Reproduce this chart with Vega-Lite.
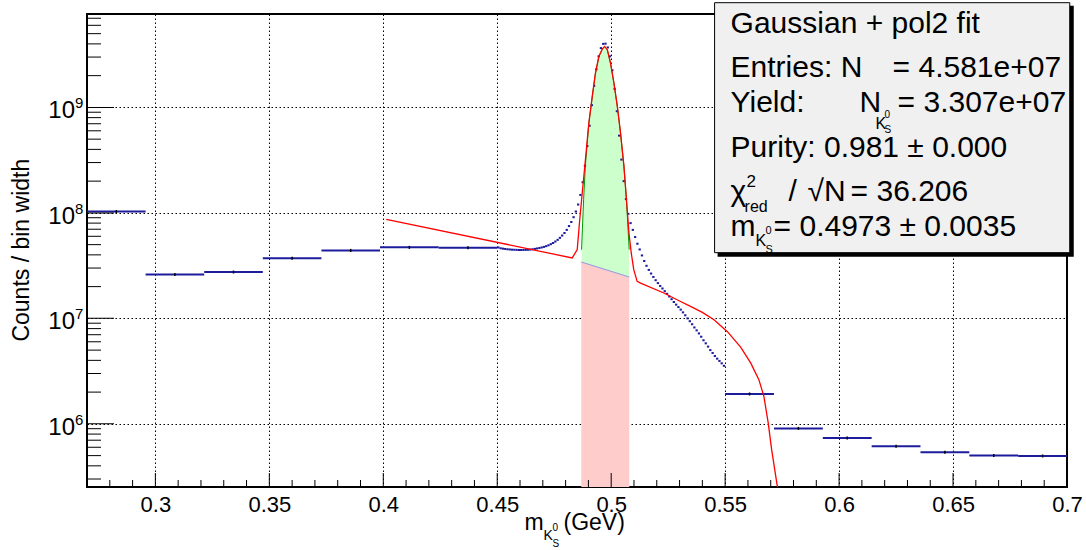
{
  "$schema": "https://vega.github.io/schema/vega-lite/v6.json",
  "width": 980,
  "height": 473,
  "autosize": {"type": "none"},
  "padding": {"left": 87, "top": 14, "right": 19, "bottom": 63},
  "background": "white",
  "config": {
    "view": {"stroke": "black", "strokeWidth": 2},
    "font": "Liberation Sans",
    "text": {"font": "Liberation Sans", "color": "black", "baseline": "alphabetic"}
  },
  "resolve": {"axis": {"x": "independent", "y": "independent"}},
  "data": {"values": [{}]},
  "datasets": {
    "hist": [
      {"lo": 0.27, "hi": 0.29571, "n": 1.03e8},
      {"lo": 0.29571, "hi": 0.32143, "n": 2.61e7},
      {"lo": 0.32143, "hi": 0.34714, "n": 2.75e7},
      {"lo": 0.34714, "hi": 0.37286, "n": 3.71e7},
      {"lo": 0.37286, "hi": 0.39857, "n": 4.41e7},
      {"lo": 0.39857, "hi": 0.42429, "n": 4.71e7},
      {"lo": 0.42429, "hi": 0.45, "n": 4.68e7},
      {"lo": 0.450, "hi": 0.451, "n": 4.70e7},
      {"lo": 0.451, "hi": 0.452, "n": 4.62e7},
      {"lo": 0.452, "hi": 0.453, "n": 4.58e7},
      {"lo": 0.453, "hi": 0.454, "n": 4.55e7},
      {"lo": 0.454, "hi": 0.455, "n": 4.52e7},
      {"lo": 0.455, "hi": 0.456, "n": 4.50e7},
      {"lo": 0.456, "hi": 0.457, "n": 4.48e7},
      {"lo": 0.457, "hi": 0.458, "n": 4.47e7},
      {"lo": 0.458, "hi": 0.459, "n": 4.46e7},
      {"lo": 0.459, "hi": 0.460, "n": 4.45e7},
      {"lo": 0.460, "hi": 0.461, "n": 4.45e7},
      {"lo": 0.461, "hi": 0.462, "n": 4.45e7},
      {"lo": 0.462, "hi": 0.463, "n": 4.46e7},
      {"lo": 0.463, "hi": 0.464, "n": 4.47e7},
      {"lo": 0.464, "hi": 0.465, "n": 4.49e7},
      {"lo": 0.465, "hi": 0.466, "n": 4.52e7},
      {"lo": 0.466, "hi": 0.467, "n": 4.56e7},
      {"lo": 0.467, "hi": 0.468, "n": 4.60e7},
      {"lo": 0.468, "hi": 0.469, "n": 4.65e7},
      {"lo": 0.469, "hi": 0.470, "n": 4.70e7},
      {"lo": 0.470, "hi": 0.471, "n": 4.76e7},
      {"lo": 0.471, "hi": 0.472, "n": 4.84e7},
      {"lo": 0.472, "hi": 0.473, "n": 4.93e7},
      {"lo": 0.473, "hi": 0.474, "n": 5.05e7},
      {"lo": 0.474, "hi": 0.475, "n": 5.18e7},
      {"lo": 0.475, "hi": 0.476, "n": 5.35e7},
      {"lo": 0.476, "hi": 0.477, "n": 5.55e7},
      {"lo": 0.477, "hi": 0.478, "n": 5.80e7},
      {"lo": 0.478, "hi": 0.479, "n": 6.10e7},
      {"lo": 0.479, "hi": 0.480, "n": 6.45e7},
      {"lo": 0.480, "hi": 0.481, "n": 6.90e7},
      {"lo": 0.481, "hi": 0.482, "n": 7.50e7},
      {"lo": 0.482, "hi": 0.483, "n": 8.20e7},
      {"lo": 0.483, "hi": 0.484, "n": 9.10e7},
      {"lo": 0.484, "hi": 0.485, "n": 1.03e8},
      {"lo": 0.485, "hi": 0.486, "n": 1.20e8},
      {"lo": 0.486, "hi": 0.487, "n": 1.48e8},
      {"lo": 0.487, "hi": 0.488, "n": 1.95e8},
      {"lo": 0.488, "hi": 0.489, "n": 2.80e8},
      {"lo": 0.489, "hi": 0.490, "n": 4.30e8},
      {"lo": 0.490, "hi": 0.491, "n": 6.70e8},
      {"lo": 0.491, "hi": 0.492, "n": 1.05e9},
      {"lo": 0.492, "hi": 0.493, "n": 1.60e9},
      {"lo": 0.493, "hi": 0.494, "n": 2.30e9},
      {"lo": 0.494, "hi": 0.495, "n": 3.05e9},
      {"lo": 0.495, "hi": 0.496, "n": 3.65e9},
      {"lo": 0.496, "hi": 0.497, "n": 4.00e9},
      {"lo": 0.497, "hi": 0.498, "n": 4.02e9},
      {"lo": 0.498, "hi": 0.499, "n": 3.70e9},
      {"lo": 0.499, "hi": 0.500, "n": 3.05e9},
      {"lo": 0.500, "hi": 0.501, "n": 2.25e9},
      {"lo": 0.501, "hi": 0.502, "n": 1.50e9},
      {"lo": 0.502, "hi": 0.503, "n": 9.20e8},
      {"lo": 0.503, "hi": 0.504, "n": 5.40e8},
      {"lo": 0.504, "hi": 0.505, "n": 3.20e8},
      {"lo": 0.505, "hi": 0.506, "n": 2.00e8},
      {"lo": 0.506, "hi": 0.507, "n": 1.35e8},
      {"lo": 0.507, "hi": 0.508, "n": 9.80e7},
      {"lo": 0.508, "hi": 0.509, "n": 8.00e7},
      {"lo": 0.509, "hi": 0.510, "n": 6.90e7},
      {"lo": 0.510, "hi": 0.511, "n": 5.90e7},
      {"lo": 0.511, "hi": 0.512, "n": 5.10e7},
      {"lo": 0.512, "hi": 0.513, "n": 4.50e7},
      {"lo": 0.513, "hi": 0.514, "n": 3.95e7},
      {"lo": 0.514, "hi": 0.515, "n": 3.50e7},
      {"lo": 0.515, "hi": 0.516, "n": 3.15e7},
      {"lo": 0.516, "hi": 0.517, "n": 2.88e7},
      {"lo": 0.517, "hi": 0.518, "n": 2.66e7},
      {"lo": 0.518, "hi": 0.519, "n": 2.47e7},
      {"lo": 0.519, "hi": 0.520, "n": 2.30e7},
      {"lo": 0.520, "hi": 0.521, "n": 2.16e7},
      {"lo": 0.521, "hi": 0.522, "n": 2.03e7},
      {"lo": 0.522, "hi": 0.523, "n": 1.92e7},
      {"lo": 0.523, "hi": 0.524, "n": 1.81e7},
      {"lo": 0.524, "hi": 0.525, "n": 1.71e7},
      {"lo": 0.525, "hi": 0.526, "n": 1.61e7},
      {"lo": 0.526, "hi": 0.527, "n": 1.52e7},
      {"lo": 0.527, "hi": 0.528, "n": 1.43e7},
      {"lo": 0.528, "hi": 0.529, "n": 1.35e7},
      {"lo": 0.529, "hi": 0.530, "n": 1.28e7},
      {"lo": 0.530, "hi": 0.531, "n": 1.21e7},
      {"lo": 0.531, "hi": 0.532, "n": 1.14e7},
      {"lo": 0.532, "hi": 0.533, "n": 1.07e7},
      {"lo": 0.533, "hi": 0.534, "n": 1.00e7},
      {"lo": 0.534, "hi": 0.535, "n": 9.4e6},
      {"lo": 0.535, "hi": 0.536, "n": 8.8e6},
      {"lo": 0.536, "hi": 0.537, "n": 8.2e6},
      {"lo": 0.537, "hi": 0.538, "n": 7.7e6},
      {"lo": 0.538, "hi": 0.539, "n": 7.2e6},
      {"lo": 0.539, "hi": 0.540, "n": 6.7e6},
      {"lo": 0.540, "hi": 0.541, "n": 6.2e6},
      {"lo": 0.541, "hi": 0.542, "n": 5.8e6},
      {"lo": 0.542, "hi": 0.543, "n": 5.4e6},
      {"lo": 0.543, "hi": 0.544, "n": 5.0e6},
      {"lo": 0.544, "hi": 0.545, "n": 4.7e6},
      {"lo": 0.545, "hi": 0.546, "n": 4.4e6},
      {"lo": 0.546, "hi": 0.547, "n": 4.15e6},
      {"lo": 0.547, "hi": 0.548, "n": 3.95e6},
      {"lo": 0.548, "hi": 0.549, "n": 3.75e6},
      {"lo": 0.549, "hi": 0.550, "n": 3.55e6},
      {"lo": 0.55, "hi": 0.57143, "n": 1.92e6},
      {"lo": 0.57143, "hi": 0.59286, "n": 9.06e5},
      {"lo": 0.59286, "hi": 0.61429, "n": 7.35e5},
      {"lo": 0.61429, "hi": 0.63571, "n": 6.12e5},
      {"lo": 0.63571, "hi": 0.65714, "n": 5.37e5},
      {"lo": 0.65714, "hi": 0.67857, "n": 5.02e5},
      {"lo": 0.67857, "hi": 0.7, "n": 4.96e5}
    ],
    "err": [
      {"c": 0.28286, "n": 1.03e8},
      {"c": 0.30857, "n": 2.61e7},
      {"c": 0.33429, "n": 2.75e7},
      {"c": 0.36, "n": 3.71e7},
      {"c": 0.38571, "n": 4.41e7},
      {"c": 0.41143, "n": 4.71e7},
      {"c": 0.43714, "n": 4.68e7},
      {"c": 0.56071, "n": 1.92e6},
      {"c": 0.58214, "n": 9.06e5},
      {"c": 0.60357, "n": 7.35e5},
      {"c": 0.625, "n": 6.12e5},
      {"c": 0.64643, "n": 5.37e5},
      {"c": 0.66786, "n": 5.02e5},
      {"c": 0.68929, "n": 4.96e5}
    ],
    "fit": [
      {"m": 0.4013, "f": 8.68e7},
      {"m": 0.4829, "f": 3.74e7},
      {"m": 0.4851, "f": 4.48e7},
      {"m": 0.4862, "f": 8.62e7},
      {"m": 0.4873, "f": 1.544e8},
      {"m": 0.4887, "f": 3.194e8},
      {"m": 0.4902, "f": 7.11e8},
      {"m": 0.4917, "f": 1.272e9},
      {"m": 0.4931, "f": 2.118e9},
      {"m": 0.4946, "f": 3.044e9},
      {"m": 0.4961, "f": 3.577e9},
      {"m": 0.4971, "f": 3.786e9},
      {"m": 0.4983, "f": 3.523e9},
      {"m": 0.4997, "f": 2.636e9},
      {"m": 0.5012, "f": 1.703e9},
      {"m": 0.5027, "f": 1.022e9},
      {"m": 0.5041, "f": 5.72e8},
      {"m": 0.5056, "f": 2.76e8},
      {"m": 0.5067, "f": 1.334e8},
      {"m": 0.5078, "f": 6.45e7},
      {"m": 0.5088, "f": 4.17e7},
      {"m": 0.5099, "f": 2.894e7},
      {"m": 0.5114, "f": 2.242e7},
      {"m": 0.5129, "f": 2.156e7},
      {"m": 0.5231, "f": 1.741e7},
      {"m": 0.5300, "f": 1.46e7},
      {"m": 0.5348, "f": 1.299e7},
      {"m": 0.5400, "f": 1.14e7},
      {"m": 0.5451, "f": 9.72e6},
      {"m": 0.5510, "f": 7.48e6},
      {"m": 0.5568, "f": 5.33e6},
      {"m": 0.5612, "f": 3.78e6},
      {"m": 0.5648, "f": 2.624e6},
      {"m": 0.5670, "f": 1.823e6},
      {"m": 0.5689, "f": 1.02e6},
      {"m": 0.5704, "f": 5.69e5},
      {"m": 0.5729, "f": 2.556e5},
      {"m": 0.5743, "f": 1.537e5}
    ],
    "sig": [
      {"m": 0.4870, "top": 4.48e7, "b": 3.424e7},
      {"m": 0.4879, "top": 1.334e8, "b": 3.38e7},
      {"m": 0.4887, "top": 2.86e8, "b": 3.33e7},
      {"m": 0.4902, "top": 7.11e8, "b": 3.256e7},
      {"m": 0.4917, "top": 1.272e9, "b": 3.18e7},
      {"m": 0.4931, "top": 2.118e9, "b": 3.111e7},
      {"m": 0.4946, "top": 3.044e9, "b": 3.044e7},
      {"m": 0.4961, "top": 3.577e9, "b": 2.972e7},
      {"m": 0.4971, "top": 3.786e9, "b": 2.927e7},
      {"m": 0.4983, "top": 3.523e9, "b": 2.87e7},
      {"m": 0.4997, "top": 2.636e9, "b": 2.808e7},
      {"m": 0.5012, "top": 1.703e9, "b": 2.741e7},
      {"m": 0.5027, "top": 1.022e9, "b": 2.682e7},
      {"m": 0.5041, "top": 5.72e8, "b": 2.618e7},
      {"m": 0.5056, "top": 2.76e8, "b": 2.562e7},
      {"m": 0.5067, "top": 1.334e8, "b": 2.512e7},
      {"m": 0.5079, "top": 4.48e7, "b": 2.468e7}
    ],
    "bkg": [
      {"m": 0.48686, "b": 3.424e7},
      {"m": 0.50793, "b": 2.468e7}
    ],
    "xmaj": [{"v": 0.3}, {"v": 0.35}, {"v": 0.4}, {"v": 0.45}, {"v": 0.5}, {"v": 0.55}, {"v": 0.6}, {"v": 0.65}],
    "xmin": [{"v": 0.28}, {"v": 0.29}, {"v": 0.31}, {"v": 0.32}, {"v": 0.33}, {"v": 0.34}, {"v": 0.36}, {"v": 0.37}, {"v": 0.38}, {"v": 0.39}, {"v": 0.41}, {"v": 0.42}, {"v": 0.43}, {"v": 0.44}, {"v": 0.46}, {"v": 0.47}, {"v": 0.48}, {"v": 0.49}, {"v": 0.51}, {"v": 0.52}, {"v": 0.53}, {"v": 0.54}, {"v": 0.56}, {"v": 0.57}, {"v": 0.58}, {"v": 0.59}, {"v": 0.61}, {"v": 0.62}, {"v": 0.63}, {"v": 0.64}, {"v": 0.66}, {"v": 0.67}, {"v": 0.68}, {"v": 0.69}],
    "ymaj": [{"v": 1e6}, {"v": 1e7}, {"v": 1e8}, {"v": 1e9}],
    "ymin": [{"v": 3e5}, {"v": 4e5}, {"v": 5e5}, {"v": 6e5}, {"v": 7e5}, {"v": 8e5}, {"v": 9e5}, {"v": 2e6}, {"v": 3e6}, {"v": 4e6}, {"v": 5e6}, {"v": 6e6}, {"v": 7e6}, {"v": 8e6}, {"v": 9e6}, {"v": 2e7}, {"v": 3e7}, {"v": 4e7}, {"v": 5e7}, {"v": 6e7}, {"v": 7e7}, {"v": 8e7}, {"v": 9e7}, {"v": 2e8}, {"v": 3e8}, {"v": 4e8}, {"v": 5e8}, {"v": 6e8}, {"v": 7e8}, {"v": 8e8}, {"v": 9e8}, {"v": 2e9}, {"v": 3e9}, {"v": 4e9}, {"v": 5e9}, {"v": 6e9}, {"v": 7e9}],
    "ylab": [
      {"p": 1e6, "e": "6"},
      {"p": 1e7, "e": "7"},
      {"p": 1e8, "e": "8"},
      {"p": 1e9, "e": "9"}
    ]
  },
  "layer": [
    {
      "data": {"name": "bkg"},
      "mark": {"type": "area", "color": "#ffcccc", "opacity": 1},
      "encoding": {
        "x": {"field": "m", "type": "quantitative",
              "scale": {"type": "linear", "domain": [0.27, 0.7], "nice": false, "zero": false},
              "axis": null},
        "y": {"field": "b", "type": "quantitative",
              "scale": {"type": "log", "domain": [252000, 7.68e9], "nice": false},
              "axis": null},
        "y2": {"datum": 252000}
      }
    },
    {
      "data": {"name": "sig"},
      "mark": {"type": "area", "color": "#ccffcc", "opacity": 1},
      "encoding": {
        "x": {"field": "m", "type": "quantitative", "axis": null},
        "y": {"field": "top", "type": "quantitative", "axis": null},
        "y2": {"field": "b"}
      }
    },
    {
      "data": {"name": "sig"},
      "mark": {"type": "line", "color": "#009900", "strokeWidth": 1},
      "encoding": {
        "x": {"field": "m", "type": "quantitative", "axis": null},
        "y": {"field": "top", "type": "quantitative", "axis": null}
      }
    },
    {
      "data": {"name": "bkg"},
      "mark": {"type": "line", "color": "#9a9ae0", "strokeWidth": 1.2},
      "encoding": {
        "x": {"field": "m", "type": "quantitative", "axis": null},
        "y": {"field": "b", "type": "quantitative", "axis": null}
      }
    },
    {
      "data": {"name": "hist"},
      "mark": {"type": "rule", "color": "#1c1c9c", "strokeWidth": 2},
      "encoding": {
        "x": {"field": "lo", "type": "quantitative",
              "axis": {"orient": "bottom", "values": [0.3, 0.35, 0.4, 0.45, 0.5, 0.55, 0.6, 0.65, 0.7], "format": ".2~f", "ticks": false, "labels": true, "labelFont": "Liberation Sans", "labelFontSize": 22, "labelColor": "black", "labelPadding": 7, "labelFlush": false, "labelOverlap": false, "grid": true, "gridColor": "black", "gridDash": [1.5, 2.5], "gridWidth": 1, "gridOpacity": 1, "domain": false, "title": null, "zindex": 0}},
        "x2": {"field": "hi"},
        "y": {"field": "n", "type": "quantitative",
              "axis": {"orient": "left", "values": [1e6, 1e7, 1e8, 1e9], "ticks": false, "labels": false, "grid": true, "gridColor": "black", "gridDash": [1.5, 2.5], "gridWidth": 1, "gridOpacity": 1, "domain": false, "title": null, "zindex": 0}}
      }
    },
    {
      "data": {"name": "err"},
      "mark": {"type": "tick", "orient": "vertical", "size": 3, "thickness": 1.5, "color": "black", "opacity": 1},
      "encoding": {
        "x": {"field": "c", "type": "quantitative", "axis": null},
        "y": {"field": "n", "type": "quantitative", "axis": null}
      }
    },
    {
      "data": {"name": "fit"},
      "mark": {"type": "line", "color": "#ff0000", "strokeWidth": 1.3, "clip": true},
      "encoding": {
        "x": {"field": "m", "type": "quantitative", "axis": null},
        "y": {"field": "f", "type": "quantitative", "axis": null}
      }
    },
    {
      "data": {"name": "xmaj"},
      "mark": {"type": "tick", "orient": "vertical", "size": 28, "thickness": 1, "color": "black", "opacity": 1, "clip": true},
      "encoding": {
        "x": {"field": "v", "type": "quantitative", "axis": null},
        "y": {"datum": 252000, "axis": null}
      }
    },
    {
      "data": {"name": "xmin"},
      "mark": {"type": "tick", "orient": "vertical", "size": 14, "thickness": 1, "color": "black", "opacity": 1, "clip": true},
      "encoding": {
        "x": {"field": "v", "type": "quantitative", "axis": null},
        "y": {"datum": 252000, "axis": null}
      }
    },
    {
      "data": {"name": "ymaj"},
      "mark": {"type": "tick", "orient": "horizontal", "size": 54, "thickness": 1, "color": "black", "opacity": 1, "clip": true},
      "encoding": {
        "x": {"datum": 0.27, "axis": null},
        "y": {"field": "v", "type": "quantitative", "axis": null}
      }
    },
    {
      "data": {"name": "ymin"},
      "mark": {"type": "tick", "orient": "horizontal", "size": 28, "thickness": 1, "color": "black", "opacity": 1, "clip": true},
      "encoding": {
        "x": {"datum": 0.27, "axis": null},
        "y": {"field": "v", "type": "quantitative", "axis": null}
      }
    },
    {
      "mark": {"type": "rect", "color": "black"},
      "encoding": {
        "x": {"datum": 0.54669, "axis": null}, "x2": {"datum": 0.70296},
        "y": {"datum": 9.2e9, "axis": null}, "y2": {"datum": 3.844e7}
      }
    },
    {
      "mark": {"type": "rect", "fill": "#f0f0f0", "stroke": "black", "strokeWidth": 1},
      "encoding": {
        "x": {"datum": 0.54537, "axis": null}, "x2": {"datum": 0.70121},
        "y": {"datum": 9.83e9, "axis": null}, "y2": {"datum": 4.195e7}
      }
    },
    {
      "mark": {"type": "text", "text": "Gaussian + pol2 fit", "align": "left", "baseline": "alphabetic", "fontSize": 30},
      "encoding": {"x": {"datum": 0.55239, "axis": null}, "y": {"datum": 5.11e9, "axis": null}}
    },
    {
      "mark": {"type": "text", "text": "Entries: N", "align": "left", "baseline": "alphabetic", "fontSize": 30},
      "encoding": {"x": {"datum": 0.55239, "axis": null}, "y": {"datum": 1.95e9, "axis": null}}
    },
    {
      "mark": {"type": "text", "text": "= 4.581e+07", "align": "left", "baseline": "alphabetic", "fontSize": 30, "dx": 162},
      "encoding": {"x": {"datum": 0.55239, "axis": null}, "y": {"datum": 1.95e9, "axis": null}}
    },
    {
      "mark": {"type": "text", "text": "Yield:", "align": "left", "baseline": "alphabetic", "fontSize": 30},
      "encoding": {"x": {"datum": 0.55239, "axis": null}, "y": {"datum": 9.1e8, "axis": null}}
    },
    {
      "mark": {"type": "text", "text": "N", "align": "left", "baseline": "alphabetic", "fontSize": 30, "dx": 129},
      "encoding": {"x": {"datum": 0.55239, "axis": null}, "y": {"datum": 9.1e8, "axis": null}}
    },
    {
      "mark": {"type": "text", "text": "K", "align": "left", "baseline": "alphabetic", "fontSize": 16, "dx": 145, "dy": 17},
      "encoding": {"x": {"datum": 0.55239, "axis": null}, "y": {"datum": 9.1e8, "axis": null}}
    },
    {
      "mark": {"type": "text", "text": "0", "align": "left", "baseline": "alphabetic", "fontSize": 10, "dx": 154, "dy": 6},
      "encoding": {"x": {"datum": 0.55239, "axis": null}, "y": {"datum": 9.1e8, "axis": null}}
    },
    {
      "mark": {"type": "text", "text": "S", "align": "left", "baseline": "alphabetic", "fontSize": 10, "dx": 154, "dy": 21},
      "encoding": {"x": {"datum": 0.55239, "axis": null}, "y": {"datum": 9.1e8, "axis": null}}
    },
    {
      "mark": {"type": "text", "text": "= 3.307e+07", "align": "left", "baseline": "alphabetic", "fontSize": 30, "dx": 167},
      "encoding": {"x": {"datum": 0.55239, "axis": null}, "y": {"datum": 9.1e8, "axis": null}}
    },
    {
      "mark": {"type": "text", "text": "Purity: 0.981 ± 0.000", "align": "left", "baseline": "alphabetic", "fontSize": 30},
      "encoding": {"x": {"datum": 0.55239, "axis": null}, "y": {"datum": 3.4e8, "axis": null}}
    },
    {
      "mark": {"type": "text", "text": "χ", "align": "left", "baseline": "alphabetic", "fontSize": 30},
      "encoding": {"x": {"datum": 0.55239, "axis": null}, "y": {"datum": 1.3e8, "axis": null}}
    },
    {
      "mark": {"type": "text", "text": "2", "align": "left", "baseline": "alphabetic", "fontSize": 17, "dx": 16, "dy": -14},
      "encoding": {"x": {"datum": 0.55239, "axis": null}, "y": {"datum": 1.3e8, "axis": null}}
    },
    {
      "mark": {"type": "text", "text": "red", "align": "left", "baseline": "alphabetic", "fontSize": 16, "dx": 14, "dy": 11},
      "encoding": {"x": {"datum": 0.55239, "axis": null}, "y": {"datum": 1.3e8, "axis": null}}
    },
    {
      "mark": {"type": "text", "text": "/", "align": "left", "baseline": "alphabetic", "fontSize": 30, "dx": 58},
      "encoding": {"x": {"datum": 0.55239, "axis": null}, "y": {"datum": 1.3e8, "axis": null}}
    },
    {
      "mark": {"type": "text", "text": "√N", "align": "left", "baseline": "alphabetic", "fontSize": 30, "dx": 77},
      "encoding": {"x": {"datum": 0.55239, "axis": null}, "y": {"datum": 1.3e8, "axis": null}}
    },
    {
      "mark": {"type": "text", "text": "=  36.206", "align": "left", "baseline": "alphabetic", "fontSize": 30, "dx": 120},
      "encoding": {"x": {"datum": 0.55239, "axis": null}, "y": {"datum": 1.3e8, "axis": null}}
    },
    {
      "mark": {"type": "text", "text": "m", "align": "left", "baseline": "alphabetic", "fontSize": 30},
      "encoding": {"x": {"datum": 0.55239, "axis": null}, "y": {"datum": 6.08e7, "axis": null}}
    },
    {
      "mark": {"type": "text", "text": "K", "align": "left", "baseline": "alphabetic", "fontSize": 16, "dx": 25, "dy": 10},
      "encoding": {"x": {"datum": 0.55239, "axis": null}, "y": {"datum": 6.08e7, "axis": null}}
    },
    {
      "mark": {"type": "text", "text": "0", "align": "left", "baseline": "alphabetic", "fontSize": 11, "dx": 35, "dy": -2},
      "encoding": {"x": {"datum": 0.55239, "axis": null}, "y": {"datum": 6.08e7, "axis": null}}
    },
    {
      "mark": {"type": "text", "text": "S", "align": "left", "baseline": "alphabetic", "fontSize": 11, "dx": 35, "dy": 17},
      "encoding": {"x": {"datum": 0.55239, "axis": null}, "y": {"datum": 6.08e7, "axis": null}}
    },
    {
      "mark": {"type": "text", "text": "= 0.4973 ± 0.0035", "align": "left", "baseline": "alphabetic", "fontSize": 30, "dx": 43},
      "encoding": {"x": {"datum": 0.55239, "axis": null}, "y": {"datum": 6.08e7, "axis": null}}
    },
    {
      "mark": {"type": "text", "text": "m", "align": "left", "baseline": "alphabetic", "fontSize": 23},
      "encoding": {"x": {"datum": 0.46197, "axis": null}, "y": {"datum": 9.94e4, "axis": null}}
    },
    {
      "mark": {"type": "text", "text": "K", "align": "left", "baseline": "alphabetic", "fontSize": 14, "dx": 19, "dy": 10},
      "encoding": {"x": {"datum": 0.46197, "axis": null}, "y": {"datum": 9.94e4, "axis": null}}
    },
    {
      "mark": {"type": "text", "text": "0", "align": "left", "baseline": "alphabetic", "fontSize": 10, "dx": 28, "dy": 1},
      "encoding": {"x": {"datum": 0.46197, "axis": null}, "y": {"datum": 9.94e4, "axis": null}}
    },
    {
      "mark": {"type": "text", "text": "S", "align": "left", "baseline": "alphabetic", "fontSize": 10, "dx": 28, "dy": 17},
      "encoding": {"x": {"datum": 0.46197, "axis": null}, "y": {"datum": 9.94e4, "axis": null}}
    },
    {
      "mark": {"type": "text", "text": "(GeV)", "align": "left", "baseline": "alphabetic", "fontSize": 23, "dx": 39},
      "encoding": {"x": {"datum": 0.46197, "axis": null}, "y": {"datum": 9.94e4, "axis": null}}
    },
    {
      "mark": {"type": "text", "text": "Counts / bin width", "align": "center", "baseline": "middle", "angle": 270, "fontSize": 23},
      "encoding": {"x": {"datum": 0.2416, "axis": null}, "y": {"datum": 4.43e7, "axis": null}}
    },
    {
      "data": {"name": "ylab"},
      "mark": {"type": "text", "text": "10", "align": "right", "baseline": "alphabetic", "fontSize": 24, "dx": -12, "dy": 11},
      "encoding": {"x": {"datum": 0.27, "axis": null}, "y": {"field": "p", "type": "quantitative", "axis": null}}
    },
    {
      "data": {"name": "ylab"},
      "mark": {"type": "text", "align": "left", "baseline": "alphabetic", "fontSize": 15, "dx": -12, "dy": 1},
      "encoding": {"x": {"datum": 0.27, "axis": null}, "y": {"field": "p", "type": "quantitative", "axis": null}, "text": {"field": "e"}}
    }
  ]
}
